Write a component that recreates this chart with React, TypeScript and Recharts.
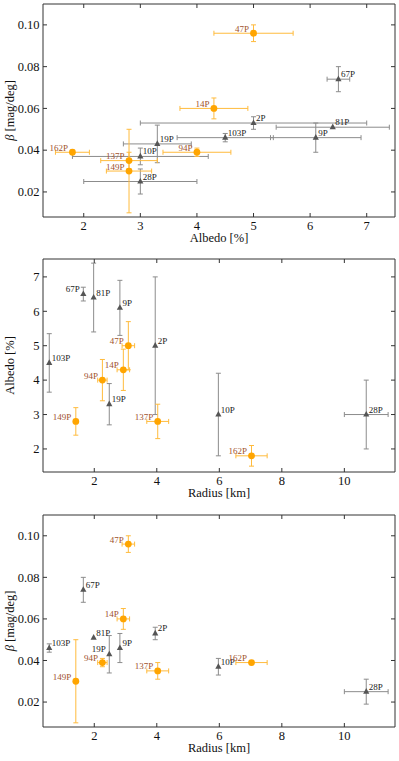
import React from 'react';
import { ScatterChart, Scatter, XAxis, YAxis, ErrorBar, ReferenceArea } from 'recharts';

// comets, in the same order in every array
const names = ['2P', '9P', '10P', '14P', '19P', '28P', '47P', '67P', '81P', '94P', '103P', '137P', '149P', '162P'];
const albedo = [5.0, 6.1, 3.0, 4.3, 3.3, 3.0, 5.0, 6.5, 6.4, 4.0, 4.5, 2.8, 2.8, 1.8];
const albedoErr = [2.0, 0.8, 1.2, 0.6, 0.6, 1.0, 0.7, 0.2, 1.0, 0.6, 0.85, 0.5, 0.4, 0.3];
const beta = [0.053, 0.046, 0.037, 0.06, 0.043, 0.025, 0.096, 0.074, 0.051, 0.039, 0.046, 0.035, 0.03, 0.039];
const betaErr = [0.003, 0.007, 0.004, 0.005, 0.009, 0.006, 0.004, 0.006, 0, 0.002, 0.002, 0.004, 0.02, 0.001];
const radius = [3.95, 2.82, 5.97, 2.93, 2.48, 10.7, 3.09, 1.65, 1.98, 2.26, 0.56, 4.03, 1.41, 7.03];
const radiusErr = [0, 0, 0, 0.2, 0, 0.7, 0.2, 0, 0, 0.15, 0, 0.35, 0, 0.5];
const orangeNames = ['14P', '47P', '94P', '137P', '149P', '162P'];

const betaTicks = [0.02, 0.04, 0.06, 0.08, 0.1];
const albedoTicks = [2, 3, 4, 5, 6, 7];
const radiusTicks = [2, 4, 6, 8, 10];

const rows = names.map((name, i) => ({
  name,
  albedo: albedo[i],
  albedoErr: albedoErr[i],
  beta: beta[i],
  betaErr: betaErr[i],
  radius: radius[i],
  radiusErr: radiusErr[i],
}));
const grayRows = rows.filter((r) => !orangeNames.includes(r.name));
const orangeRows = rows.filter((r) => orangeNames.includes(r.name));

const FONT = '"Liberation Serif", "DejaVu Serif", serif';
const PLOT_W = 352;
const AXIS = '#333';
const ORANGE = '#ffa500';
const ORANGE_ERR = '#ffbb3d';
const GRAY = '#555555';
const GRAY_ERR = '#8c8c8c';
const LABEL_BROWN = '#a0522d';

const panels = [
  {
    xKey: 'albedo', xErrKey: 'albedoErr', yKey: 'beta', yErrKey: 'betaErr',
    xDomain: [1.28, 7.5], yDomain: [0.008, 0.11], xTicks: albedoTicks, yTicks: betaTicks,
    xTitle: 'Albedo [%]', yTitle: 'beta', yFmt: (v: number) => v.toFixed(2),
    leftGray: [] as string[], height: 250, top: 4, xAxisH: 33,
  },
  {
    xKey: 'radius', xErrKey: 'radiusErr', yKey: 'albedo', yErrKey: 'albedoErr',
    xDomain: [0.36, 11.62], yDomain: [1.33, 7.52], xTicks: radiusTicks, yTicks: albedoTicks,
    xTitle: 'Radius [km]', yTitle: 'Albedo [%]', yFmt: (v: number) => String(v),
    leftGray: ['67P'], height: 250, top: 9, xAxisH: 28,
  },
  {
    xKey: 'radius', xErrKey: 'radiusErr', yKey: 'beta', yErrKey: 'betaErr',
    xDomain: [0.36, 11.62], yDomain: [0.008, 0.11], xTicks: radiusTicks, yTicks: betaTicks,
    xTitle: 'Radius [km]', yTitle: 'beta', yFmt: (v: number) => v.toFixed(2),
    leftGray: ['19P'], height: 261, top: 15, xAxisH: 34,
  },
];

function Panel({ cfg }: { cfg: (typeof panels)[number] }) {
  const plotH = cfg.height - cfg.top - cfg.xAxisH;
  const plotBottom = cfg.top + plotH;
  const plotMidY = cfg.top + plotH / 2;

  const xTick = (props: any) => {
    const { x, y, payload } = props;
    return (
      <g>
        <line x1={x} x2={x} y1={y} y2={y - 4} stroke={AXIS} />
        <line x1={x} x2={x} y1={y - plotH} y2={y - plotH + 4} stroke={AXIS} />
        <text x={x} y={y + 12.5} textAnchor="middle" fontSize={12.5} fontFamily={FONT} fill="#111">
          {payload.value}
        </text>
      </g>
    );
  };

  const yTick = (props: any) => {
    const { x, y, payload } = props;
    return (
      <g>
        <line x1={x} x2={x + 4} y1={y} y2={y} stroke={AXIS} />
        <line x1={x + PLOT_W} x2={x + PLOT_W - 4} y1={y} y2={y} stroke={AXIS} />
        <text x={x - 3.5} y={y + 4.3} textAnchor="end" fontSize={12.5} fontFamily={FONT} fill="#111">
          {cfg.yFmt(payload.value)}
        </text>
      </g>
    );
  };

  const xTitle = () => (
    <text x={43 + PLOT_W / 2} y={plotBottom + 25} textAnchor="middle" fontSize={12.5} fontFamily={FONT} fill="#111">
      {cfg.xTitle}
    </text>
  );

  const yTitle = () => (
    <text
      x={0}
      y={0}
      transform={`translate(14 ${plotMidY}) rotate(-90)`}
      textAnchor="middle"
      fontSize={12.5}
      fontFamily={FONT}
      fill="#111"
    >
      {cfg.yTitle === 'beta' ? (
        <>
          <tspan fontStyle="italic">β</tspan>
          <tspan> [mag/deg]</tspan>
        </>
      ) : (
        cfg.yTitle
      )}
    </text>
  );

  const grayShape = (props: any) => {
    const { cx, cy, payload } = props;
    const left = cfg.leftGray.includes(payload.name);
    return (
      <g>
        <polygon points={`${cx},${cy - 3.6} ${cx - 3.1},${cy + 2} ${cx + 3.1},${cy + 2}`} fill={GRAY} />
        <text
          x={left ? cx - 3.5 : cx + 2.5}
          y={cy - 2}
          textAnchor={left ? 'end' : 'start'}
          fontSize={9}
          fontFamily={FONT}
          fill="#222"
        >
          {payload.name}
        </text>
      </g>
    );
  };

  const orangeShape = (props: any) => {
    const { cx, cy, payload } = props;
    return (
      <g>
        <circle cx={cx} cy={cy} r={3.4} fill={ORANGE} />
        <text x={cx - 4.5} y={cy - 1.5} textAnchor="end" fontSize={9} fontFamily={FONT} fill={LABEL_BROWN}>
          {payload.name}
        </text>
      </g>
    );
  };

  return (
    <ScatterChart width={399} height={cfg.height} margin={{ top: cfg.top, right: 4, bottom: 0, left: 0 }}>
      <XAxis
        type="number"
        dataKey={cfg.xKey}
        domain={cfg.xDomain}
        ticks={cfg.xTicks}
        interval={0}
        allowDataOverflow
        height={cfg.xAxisH}
        axisLine={false}
        tickLine={false}
        tickSize={0}
        tickMargin={0}
        tick={xTick}
        label={xTitle}
      />
      <YAxis
        type="number"
        dataKey={cfg.yKey}
        domain={cfg.yDomain}
        ticks={cfg.yTicks}
        interval={0}
        allowDataOverflow
        width={43}
        axisLine={false}
        tickLine={false}
        tickSize={0}
        tickMargin={0}
        tick={yTick}
        label={yTitle}
      />
      <ReferenceArea
        x1={cfg.xDomain[0]}
        x2={cfg.xDomain[1]}
        y1={cfg.yDomain[0]}
        y2={cfg.yDomain[1]}
        fill="none"
        stroke={AXIS}
        strokeWidth={1}
        ifOverflow="visible"
      />
      <Scatter data={grayRows} shape={grayShape} isAnimationActive={false}>
        <ErrorBar dataKey={cfg.xErrKey} direction="x" width={2.5} stroke={GRAY_ERR} strokeWidth={1} isAnimationActive={false} />
        <ErrorBar dataKey={cfg.yErrKey} direction="y" width={2.5} stroke={GRAY_ERR} strokeWidth={1} isAnimationActive={false} />
      </Scatter>
      <Scatter data={orangeRows} shape={orangeShape} isAnimationActive={false}>
        <ErrorBar dataKey={cfg.xErrKey} direction="x" width={2.5} stroke={ORANGE_ERR} strokeWidth={1} isAnimationActive={false} />
        <ErrorBar dataKey={cfg.yErrKey} direction="y" width={2.5} stroke={ORANGE_ERR} strokeWidth={1} isAnimationActive={false} />
      </Scatter>
    </ScatterChart>
  );
}

export default function App() {
  return (
    <div style={{ position: 'absolute', left: 0, top: 0, width: 399, height: 761, background: '#fff', fontFamily: FONT }}>
      {panels.map((cfg, i) => (
        <Panel key={i} cfg={cfg} />
      ))}
    </div>
  );
}
